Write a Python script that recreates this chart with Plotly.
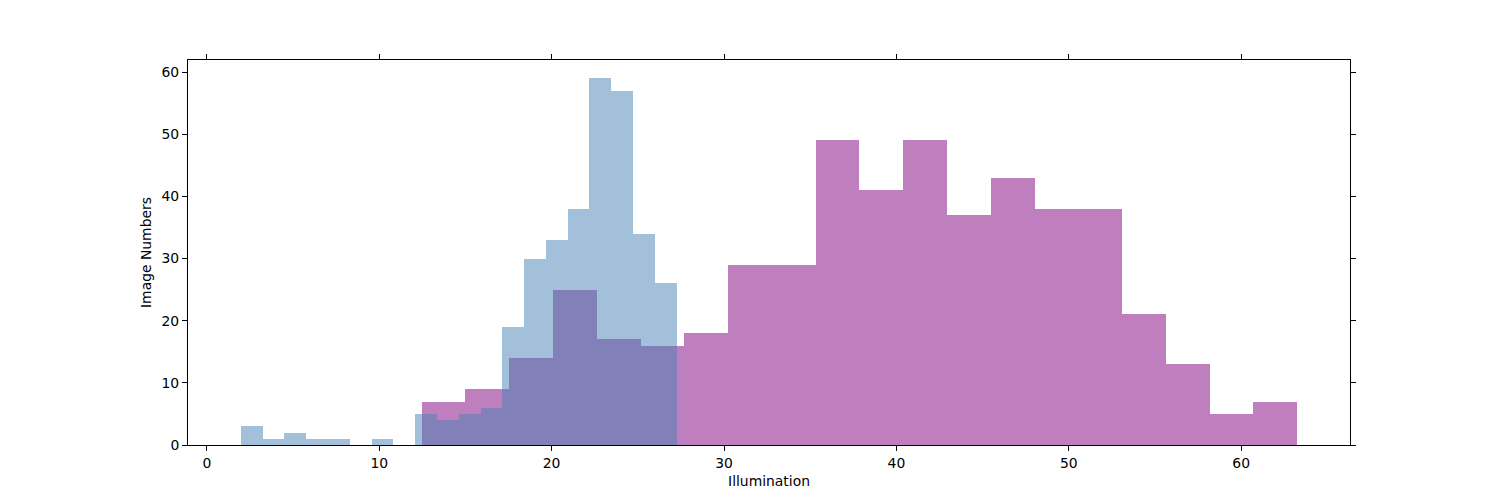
import numpy as np
import plotly.graph_objects as go

# Histogram data
blue_counts = [3, 1, 2, 1, 1, 0, 1, 0, 5, 4, 5, 6, 19, 30, 33, 38, 59, 57, 34, 26]
blue_range = [1.97, 27.25]
purple_counts = [7, 9, 14, 25, 17, 16, 18, 29, 29, 49, 41, 49, 37, 43, 38, 38, 21, 13, 5, 7]
purple_range = [12.46, 63.25]
x_ticks = [0, 10, 20, 30, 40, 50, 60]
y_ticks = [0, 10, 20, 30, 40, 50, 60]


def bins(rng, counts):
    edges = np.linspace(rng[0], rng[1], len(counts) + 1)
    centers = (edges[:-1] + edges[1:]) / 2
    widths = np.diff(edges)
    return centers, widths


fig = go.Figure()
pc, pw = bins(purple_range, purple_counts)
fig.add_trace(go.Bar(x=pc, y=purple_counts, width=pw,
                     marker=dict(color="rgba(128,0,128,0.5)", line=dict(width=0)),
                     showlegend=False))
bc, bw = bins(blue_range, blue_counts)
fig.add_trace(go.Bar(x=bc, y=blue_counts, width=bw,
                     marker=dict(color="rgba(70,130,180,0.5)", line=dict(width=0)),
                     showlegend=False))

xmin = min(blue_range[0], purple_range[0])
xmax = max(blue_range[1], purple_range[1])
pad = 0.05 * (xmax - xmin)
ymax = max(max(blue_counts), max(purple_counts)) * 1.05

font = dict(family="DejaVu Sans", size=13.9, color="black")
fig.update_layout(
    width=1500, height=500,
    margin=dict(l=188, r=150, t=60, b=55),
    paper_bgcolor="white", plot_bgcolor="white",
    barmode="overlay", bargap=0,
    font=font,
    xaxis=dict(range=[xmin - pad, xmax + pad], tickvals=x_ticks,
               showline=True, linecolor="black", linewidth=1, mirror="ticks",
               ticks="outside", ticklen=5, tickwidth=1, tickcolor="black",
               showgrid=False, zeroline=False,
               title=dict(text="Illumination", font=font, standoff=6)),
    yaxis=dict(range=[0, ymax], tickvals=y_ticks,
               showline=True, linecolor="black", linewidth=1, mirror="ticks",
               ticks="outside", ticklen=5, tickwidth=1, tickcolor="black",
               showgrid=False, zeroline=False,
               title=dict(text="Image Numbers", font=font, standoff=6)),
)

fig.write_html("out.html")
